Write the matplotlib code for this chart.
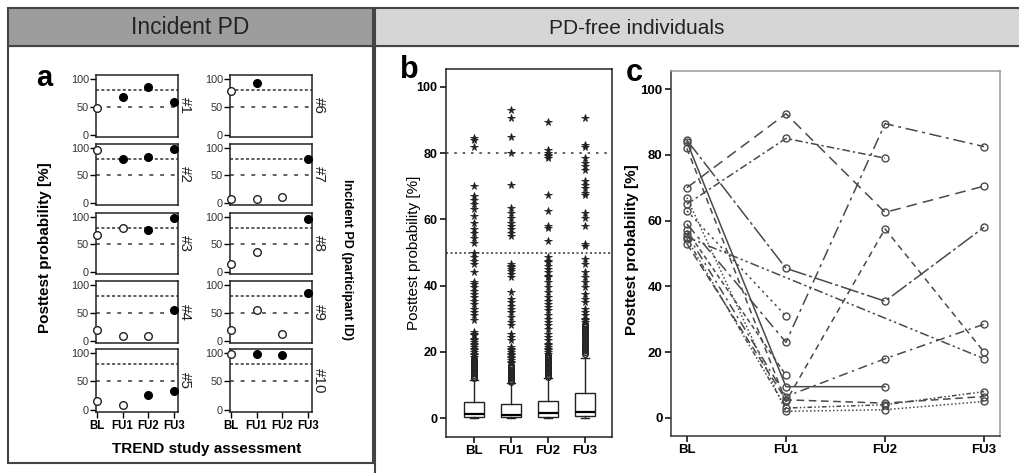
import numpy as np
import matplotlib
matplotlib.use("Agg")
import matplotlib.pyplot as plt
from matplotlib.patches import Rectangle

plt.rcParams['font.family'] = ['Liberation Sans', 'DejaVu Sans']

# ---------------- data ----------------
visits = ['BL', 'FU1', 'FU2', 'FU3']

# Panel a: incident PD participants (None = missing)
pa_ids = ['#1', '#2', '#3', '#4', '#5', '#6', '#7', '#8', '#9', '#10']
pa_values = [
    [48, 67, 85, 58],
    [97, 80, 84, 98],
    [68, 80, 76, 98],
    [20, 8, 8, 55],
    [16, 8, 27, 33],
    [78, 92, None, None],
    [7, 7, 10, 80],
    [14, 36, None, 97],
    [20, 55, 13, 85],
    [98, 98, 97, None],
]
pa_filled = [
    [0, 1, 1, 1],
    [0, 1, 1, 1],
    [0, 0, 1, 1],
    [0, 0, 0, 1],
    [0, 0, 1, 1],
    [0, 1, 0, 0],
    [0, 0, 0, 1],
    [0, 0, 0, 1],
    [0, 0, 0, 1],
    [0, 1, 1, 0],
]
thresholds = [50, 80]

# Panel b: box plot summaries
b_q1 = [0.4, 0.3, 0.4, 0.5]
b_med = [1.3, 0.9, 1.6, 1.9]
b_q3 = [4.9, 4.4, 5.1, 7.5]
b_whislo = [0, 0, 0, 0]
b_whishi = [11.5, 10.5, 12, 18]
b_out_BL = [18, 17.5, 17, 16.5, 16, 15.5, 15, 14.5, 14, 13.5, 13, 12.5, 12]
b_ext_BL = [84.5, 84, 82, 70, 67, 66, 64.5, 63, 61, 59, 57, 56, 54.5, 53, 49.8, 48.5,
            47.5, 46.5, 44, 41, 40.5, 39.5, 38.5, 37.5, 36.5, 35.5, 34.5, 33, 32, 31,
            29.5, 26, 25.5, 25, 24, 23.5, 23, 22.5, 22, 21.5, 21, 20.5, 20, 19.5, 19, 18.5]
b_out_FU1 = [16, 15.5, 15, 14.5, 14, 13.5, 13, 12.5, 12, 11.5, 11]
b_ext_FU1 = [93, 90.5, 85, 80, 70.5, 63.5, 62, 60.5, 59, 58, 57, 56, 55, 46.5, 46, 45.5,
             45, 44.5, 43.5, 42.5, 38, 36, 35, 34, 33, 32, 30.5, 29, 28, 25.5, 24.5, 23.5,
             21.5, 21, 20.5, 20, 19.5, 19, 18.5, 18, 17.5, 17, 16.5]
b_out_FU2 = [19, 18.5, 18, 17.5, 17, 16.5, 16, 15.5, 15, 14.5, 14, 13.5, 13, 12.5]
b_ext_FU2 = [89.5, 81, 80, 79.5, 79, 78.5, 67.5, 62.5, 58, 57.5, 53.5, 48.5, 47.5, 47, 46,
             45, 44, 43, 42.5, 41, 39.5, 38, 36.5, 35.5, 34.5, 33.5, 32.5, 31, 30, 29, 28,
             27, 25.5, 24.5, 23.5, 22.5, 22, 21.5, 21, 20.5, 20, 19.5]
b_out_FU3 = [28.5, 28, 27.5, 27, 26.5, 26, 25.5, 25, 24.5, 24, 23.5, 23, 22.5, 22, 21.5,
             21, 20.5, 20, 19.5]
b_ext_FU3 = [90.5, 82.5, 82, 78.5, 77, 76, 75, 71.5, 70.5, 69.5, 68, 67.5, 62, 60.5, 58,
             52.5, 52, 48, 46.5, 44, 42.5, 41, 39.5, 37.5, 36, 35, 33, 32, 31, 30, 29.5, 29]
b_outliers = [b_out_BL, b_out_FU1, b_out_FU2, b_out_FU3]
b_extremes = [b_ext_BL, b_ext_FU1, b_ext_FU2, b_ext_FU3]

# Panel c: individual trajectories of PD-free individuals above threshold
c_lines = [
    [70, 92.5, 62.5, 70.5],
    [65, 85, 79, None],
    [84.5, 45.5, 35.5, 58],
    [84, 9.5, 9.5, None],
    [82, 5, 57.5, 20],
    [55, None, None, 18],
    [59, 23, 89.5, 82.5],
    [63, 31, None, None],
    [57, 13, None, None],
    [56, 6.5, 18, 28.5],
    [53, 5.5, 4.5, 6.5],
    [54.5, 3, 4, 8],
    [67, 2, 2.5, 5],
]
c_dashes = [
    (7, 4), (5, 2, 1.5, 2), (12, 2, 2, 2), None, (4, 3), (6, 2, 1.5, 2, 1.5, 2),
    (8, 3, 2, 3), (1.5, 2.5), (3, 2), (6, 3, 1.5, 3), (5, 3), (3, 1.5, 1, 1.5, 1, 1.5),
    (1, 1.5),
]

# ---------------- figure ----------------
W, H = 1020, 473
fig = plt.figure(figsize=(W / 100, H / 100), dpi=100)
fig.patch.set_facecolor('white')


def ax_px(l, t, r, b):
    return fig.add_axes([l / W, 1 - b / H, (r - l) / W, (b - t) / H])


def ftext(x, y, s, **kw):
    fig.text(x / W, 1 - y / H, s, **kw)


def rect_px(l, t, r, b, **kw):
    fig.patches.append(Rectangle((l / W, 1 - b / H), (r - l) / W, (b - t) / H,
                                 transform=fig.transFigure, zorder=-5, **kw))


# headers and frames
rect_px(8, 46, 373, 463, facecolor='white', edgecolor='#444444', lw=1.5)
rect_px(375, 46, 1022, 480, facecolor='white', edgecolor='#444444', lw=1.5)
rect_px(8, 8, 373, 46, facecolor='#9d9d9d', edgecolor='#444444', lw=1.5)
rect_px(375, 8, 1022, 46, facecolor='#d6d6d6', edgecolor='#444444', lw=1.5)
ftext(190, 28, 'Incident PD', fontsize=16.5, ha='center', va='center', color='#222222')
ftext(637, 28, 'PD-free individuals', fontsize=15, ha='center', va='center', color='#222222')

# ---------------- panel a ----------------
cols_x = [(96, 178), (230, 312)]
rows_y = [(75, 137), (144, 205), (213, 274), (281, 343), (349, 412)]
xpos = np.arange(len(visits))
for i, pid in enumerate(pa_ids):
    c = i // 5
    r = i % 5
    l, rr = cols_x[c]
    t, b = rows_y[r]
    ax = ax_px(l, t, rr, b)
    ax.set_xlim(-0.04, 3.16)
    ax.set_ylim(-3.6, 107)
    ax.axhline(thresholds[1], color='#333333', lw=1.1, dashes=(2, 1.5))
    ax.axhline(thresholds[0], color='#333333', lw=1.1, dashes=(2.5, 4.5))
    for j, v in enumerate(pa_values[i]):
        if v is None:
            continue
        if pa_filled[i][j]:
            ax.plot(xpos[j], v, 'o', ms=5.5, mfc='black', mec='black', mew=1, clip_on=False, zorder=5)
        else:
            ax.plot(xpos[j], v, 'o', ms=5.5, mfc='white', mec='#222222', mew=1, clip_on=False, zorder=5)
    ax.set_yticks([0, 50, 100])
    ax.set_yticklabels(['0', '50', '100'], fontsize=7.8, color='#333333')
    ax.tick_params(axis='y', length=4, width=1, pad=1)
    if r == 4:
        ax.set_xticks(xpos)
        ax.set_xticklabels(visits, fontsize=8.3, fontweight='bold')
        ax.tick_params(axis='x', length=4, width=1, pad=1.5)
    else:
        ax.set_xticks([])
    for s in ax.spines.values():
        s.set_color('#222222')
        s.set_linewidth(1.1)
    ax.text(1.08, 0.5, pid, transform=ax.transAxes, rotation=-90, ha='center', va='center',
            fontsize=11, color='#222222')

ftext(44, 78, 'a', fontsize=21, fontweight='bold', ha='center', va='center')
ftext(45, 248, 'Posttest probability [%]', fontsize=11, fontweight='bold', rotation=90,
      ha='center', va='center')
ftext(207, 449, 'TREND study assessment', fontsize=11, fontweight='bold', ha='center', va='center')
ftext(347, 259, 'Incident PD (participant ID)', fontsize=9, fontweight='bold', rotation=-90,
      ha='center', va='center')

# ---------------- panel b ----------------
axb = ax_px(446, 69, 612, 437)
stats = []
for k in range(4):
    stats.append(dict(med=b_med[k], q1=b_q1[k], q3=b_q3[k], whislo=b_whislo[k],
                      whishi=b_whishi[k], fliers=[]))
axb.bxp(stats, positions=xpos, widths=0.54, capwidths=0.2, patch_artist=True,
        boxprops=dict(facecolor='white', edgecolor='#222222', lw=1),
        medianprops=dict(color='black', lw=1.6),
        whiskerprops=dict(color='#222222', lw=1),
        capprops=dict(color='#222222', lw=1), showfliers=False, zorder=3)
for k in range(4):
    axb.plot([xpos[k]] * len(b_outliers[k]), b_outliers[k], 'o', ms=4, mfc='none',
             mec='#222222', mew=1, zorder=4)
    axb.plot([xpos[k]] * len(b_extremes[k]), b_extremes[k], '*', ms=5.5, color='#222222',
             mew=0.6, zorder=4)
axb.axhline(thresholds[1], color='#444444', lw=1.2, dashes=(1.5, 3.5), zorder=2)
axb.axhline(thresholds[0], color='#444444', lw=1.2, dashes=(1.2, 1.5), zorder=2)
axb.set_xlim(-0.76, 3.73)
axb.set_ylim(-5.7, 105.4)
axb.set_yticks([0, 20, 40, 60, 80, 100])
axb.set_yticklabels(['0', '20', '40', '60', '80', '100'], fontsize=9, fontweight='bold')
axb.set_xticks(xpos)
axb.set_xticklabels(visits, fontsize=9.5, fontweight='bold')
axb.tick_params(length=4, width=1.1, pad=2)
for s in axb.spines.values():
    s.set_color('#222222')
    s.set_linewidth(1.1)
ftext(409, 70, 'b', fontsize=22, fontweight='bold', ha='center', va='center')
ftext(414, 253, 'Posttest probability [%]', fontsize=11, rotation=90, ha='center', va='center')

# ---------------- panel c ----------------
axc = ax_px(671, 71, 1000, 436)
for vals, d in zip(c_lines, c_dashes):
    xs = [xpos[j] for j, v in enumerate(vals) if v is not None]
    ys = [v for v in vals if v is not None]
    line, = axc.plot(xs, ys, color='#4a4a4a', lw=1.1, marker='o', ms=5, mfc='none',
                     mec='#4a4a4a', mew=1)
    if d is not None:
        line.set_dashes(d)
axc.set_xlim(-0.16, 3.16)
axc.set_ylim(-5.5, 105.5)
axc.set_yticks([0, 20, 40, 60, 80, 100])
axc.set_yticklabels(['0', '20', '40', '60', '80', '100'], fontsize=9.5, fontweight='bold')
axc.set_xticks(xpos)
axc.set_xticklabels(visits, fontsize=9.5, fontweight='bold')
axc.tick_params(length=4, width=1.1, pad=2)
axc.spines['left'].set_color('#333333')
axc.spines['bottom'].set_color('#333333')
axc.spines['top'].set_color('#9a9a9a')
axc.spines['right'].set_color('#9a9a9a')
for s in axc.spines.values():
    s.set_linewidth(1.1)
ftext(634, 73, 'c', fontsize=22, fontweight='bold', ha='center', va='center')
ftext(632, 250, 'Posttest probability [%]', fontsize=11, fontweight='bold', rotation=90,
      ha='center', va='center')

fig.savefig('out.png', dpi=100, facecolor='white')
